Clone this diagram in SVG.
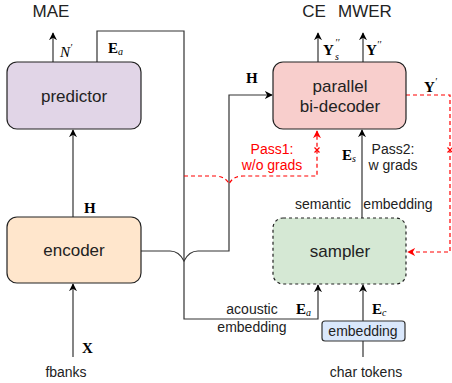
<svg xmlns="http://www.w3.org/2000/svg" width="452" height="383" viewBox="0 0 452 383">
<defs>
<marker id="ab" viewBox="0 0 10 10" refX="9" refY="5" markerWidth="8" markerHeight="8" orient="auto" markerUnits="userSpaceOnUse">
<path d="M0,0 L10,5 L0,10 L3,5 z" fill="#000"/>
</marker>
<marker id="ar" viewBox="0 0 10 10" refX="9" refY="5" markerWidth="8" markerHeight="8" orient="auto" markerUnits="userSpaceOnUse">
<path d="M0,0 L10,5 L0,10 L3,5 z" fill="#ff0000"/>
</marker>
<style>
.box{stroke:#222;stroke-width:1.2}
.big{font-family:"Liberation Sans",Arial,sans-serif;font-size:17px;fill:#222;text-anchor:middle}
.mid{font-family:"Liberation Sans",Arial,sans-serif;font-size:14px;fill:#222;text-anchor:middle}
.math{font-family:"Liberation Serif","Times New Roman",serif;font-size:15px;font-weight:bold;fill:#000}
.it{font-style:italic;font-weight:normal}
.sm{font-family:"Liberation Serif","Times New Roman",serif;font-size:10px;font-style:italic;fill:#000}
.ln{fill:none;stroke:#333;stroke-width:1.2}
.red{fill:none;stroke:#ff0000;stroke-width:1.2;stroke-dasharray:4 3}
.redt{font-family:"Liberation Sans",Arial,sans-serif;font-size:14px;fill:#ff0000;text-anchor:middle}
</style>
</defs>

<g id="connectors">
<path class="ln" d="M53,62 V33" marker-end="url(#ab)"/>
<path class="ln" d="M97,62 V31 H184 V319 H318 V285" marker-end="url(#ab)"/>
<path class="ln" d="M73,217 V130" marker-end="url(#ab)"/>
<path class="ln" d="M73,357 V284" marker-end="url(#ab)"/>
<path class="ln" d="M141,251 H170 Q179,251 184,261 Q189,251 198,251 H229 V95 H272" marker-end="url(#ab)"/>
<path class="ln" d="M318,62 V33" marker-end="url(#ab)"/>
<path class="ln" d="M363,62 V33" marker-end="url(#ab)"/>
<path class="ln" d="M362,218 V130" marker-end="url(#ab)"/>
<path class="ln" d="M363,321 V285" marker-end="url(#ab)"/>
<path class="ln" d="M363,341 V357"/>
<path class="red" d="M184,176 H216 Q226,177 229,184 Q233,176 243,176 H317 V131" marker-end="url(#ar)"/>
<path class="red" d="M406,95 H450 V252 H408" marker-end="url(#ar)"/>
<path d="M314.5,147.5 L319.5,152.5 M319.5,147.5 L314.5,152.5" stroke="#ff0000" stroke-width="1.2"/>
<path d="M447.5,147.5 L452.5,152.5 M452.5,147.5 L447.5,152.5" stroke="#ff0000" stroke-width="1.2"/>
</g>

<g id="predictor">
<rect class="box" x="7" y="62" width="134" height="67" rx="10" fill="#e1d5e7"/>
<text class="big" x="74" y="102">predictor</text>
</g>

<g id="encoder">
<rect class="box" x="7" y="217" width="134" height="66" rx="10" fill="#ffe6cc"/>
<text class="big" x="74" y="256">encoder</text>
</g>

<g id="decoder">
<rect class="box" x="273" y="62" width="133" height="67" rx="10" fill="#f8cecc"/>
<text class="big" x="340" y="92">parallel</text>
<text class="big" x="340" y="112">bi-decoder</text>
</g>

<g id="sampler">
<rect class="box" x="273" y="218" width="133" height="66" rx="10" fill="#d5e8d4" stroke-dasharray="3 3"/>
<text class="big" x="340" y="257">sampler</text>
</g>

<g id="embedding">
<rect x="322" y="321" width="83" height="20" rx="3" fill="#dae8fc" stroke="#333" stroke-width="1.2"/>
<text class="mid" x="363" y="336">embedding</text>
</g>

<g id="labels">
<text class="big" x="51" y="17">MAE</text>
<text class="big" x="314" y="17">CE</text>
<text class="big" x="365" y="17">MWER</text>
<text class="mid" x="66" y="377">fbanks</text>
<text class="mid" x="366" y="377">char tokens</text>
<text class="mid" x="323" y="209">semantic</text>
<text class="mid" x="398" y="209">embedding</text>
<text class="mid" x="252" y="314">acoustic</text>
<text class="mid" x="252" y="332">embedding</text>
<text class="mid" x="393" y="154">Pass2:</text>
<text class="mid" x="393" y="170">w grads</text>
<text class="redt" x="272" y="154">Pass1:</text>
<text class="redt" x="272" y="170">w/o grads</text>

<text class="math it" x="60" y="57">N<tspan dy="-6" font-size="10">′</tspan></text>
<text class="math" x="108" y="53">E<tspan class="it" font-size="10" dy="2">a</tspan></text>
<text class="math" x="84" y="213">H</text>
<text class="math" x="82" y="353">X</text>
<text class="math" x="246" y="83">H</text>
<text class="math" x="323" y="55">Y</text>
<text class="sm" x="335" y="46">′′</text>
<text class="sm" x="335" y="60">s</text>
<text class="math" x="366" y="55">Y<tspan class="it" font-size="10" dy="-7">′′</tspan></text>
<text class="math" x="424" y="92">Y<tspan class="it" font-size="10" dy="-7">′</tspan></text>
<text class="math" x="342" y="160">E<tspan class="it" font-size="10" dy="2">s</tspan></text>
<text class="math" x="296" y="314">E<tspan class="it" font-size="10" dy="2">a</tspan></text>
<text class="math" x="372" y="314">E<tspan class="it" font-size="10" dy="2">c</tspan></text>
</g>
</svg>
